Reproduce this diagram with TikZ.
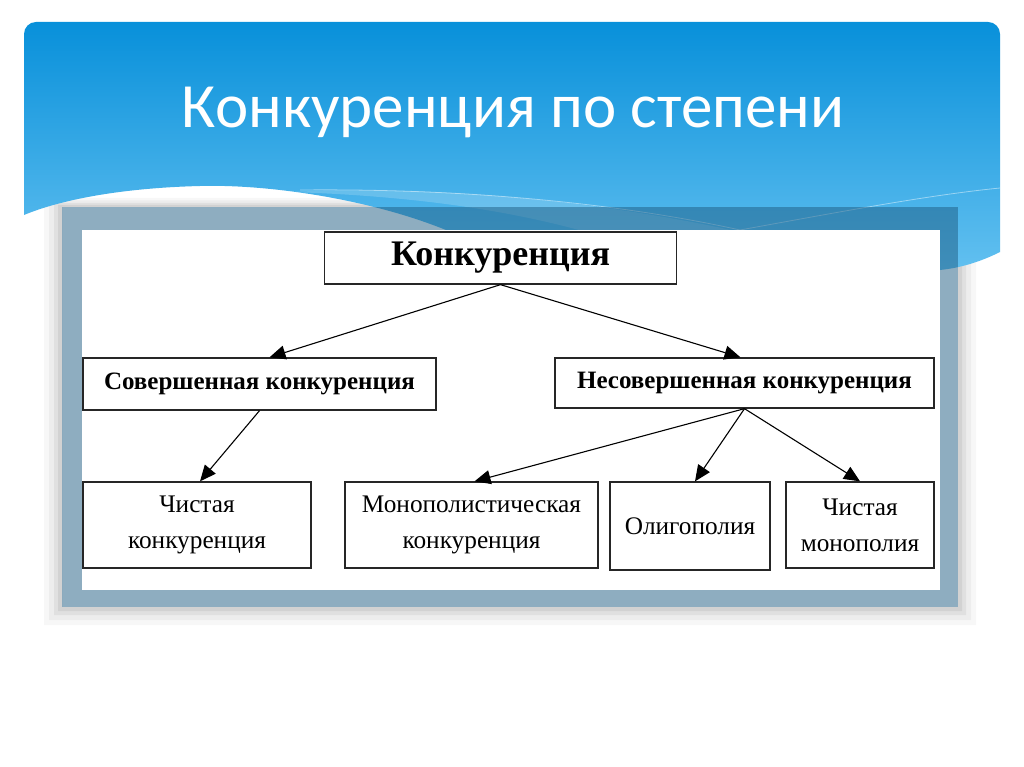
\documentclass[tikz,border=0pt]{standalone}
\usepackage{fontspec}
\setmainfont{Liberation Serif}
\newfontfamily\titlefont{Carlito}
\usetikzlibrary{arrows.meta}

\definecolor{hdtop}{RGB}{8,144,218}
\definecolor{hdbot}{RGB}{98,192,240}
\definecolor{framec}{RGB}{30,92,130}

\tikzset{
  box/.style={draw=black!85, line width=1.3pt, fill=white, inner sep=0pt, align=center},
  boldbox/.style={box, font=\bfseries\fontsize{25}{30}\selectfont},
  leafbox/.style={box, font=\fontsize{25.3}{36}\selectfont},
  link/.style={line width=1.1pt, -{Triangle[length=16pt,width=14pt]}}
}

\begin{document}
\begin{tikzpicture}[x=1pt,y=-1pt]
\useasboundingbox (0,0) rectangle (1024,767);
\fill[white] (0,0) rectangle (1024,767);
% shadow round the frame
\foreach \d/\o in {18/0.03, 13/0.04, 8/0.05, 4/0.06}
  \fill[black, opacity=\o, even odd rule] (62-\d,207-\d/2) rectangle (958+\d,607+\d)
    (62,207) rectangle (958,607);
% header
\shade[top color=hdtop, bottom color=hdbot]
  (24,215) -- (24,34) arc[start angle=180, end angle=270, radius=12]
  -- (988,22) arc[start angle=270, end angle=360, radius=12]
  -- (1000,252) .. controls (980,262) and (960,268) .. (940,270) -- (940,236) -- (460,236)
  .. controls (380,200) and (270,184) .. (200,186)
  .. controls (120,188) and (60,200) .. (24,215) -- cycle;
\fill[white, opacity=0.18] (290,192) .. controls (450,184) and (620,205) .. (740,232)
  -- (600,236) .. controls (520,212) and (420,196) .. (290,192);
\draw[white, opacity=0.45, line width=0.8pt] (300,190) .. controls (500,188) and (650,210) .. (740,230)
  .. controls (850,210) and (930,195) .. (1000,188);
\node[white, font=\titlefont\fontsize{63}{63}\selectfont, anchor=base] (title) at (513,128) {Конкуренция по степени};
% frame
\fill[framec, opacity=0.5] (62,207) rectangle (958,607);
\fill[white] (82,230) rectangle (940,590);
% boxes
\node[boldbox, font=\bfseries\fontsize{36}{40}\selectfont, minimum width=352pt, minimum height=52pt] (conc) at (500.5,258) {Конкуренция};
\node[boldbox, minimum width=353pt, minimum height=52pt] (perf) at (259.5,384) {Совершенная конкуренция};
\node[boldbox, minimum width=379pt, minimum height=50pt] (imperf) at (744.5,383) {Несовершенная конкуренция};
\node[leafbox, minimum width=228pt, minimum height=86pt] (pure) at (197,525) {Чистая\\конкуренция};
\node[leafbox, minimum width=253pt, minimum height=86pt] (monop) at (471.5,525) {Монополистическая\\конкуренция};
\node[leafbox, minimum width=160pt, minimum height=88pt] (olig) at (690,526) {Олигополия};
\node[leafbox, minimum width=148pt, minimum height=86pt] (puremono) at (860,525) {Чистая\\монополия};
% arrows
\draw[link] (conc.south) -- ([xshift=10pt]perf.north);
\draw[link] (conc.south) -- ([xshift=-4pt]imperf.north);
\draw[link] (perf.south) -- ([xshift=3pt]pure.north);
\draw[link] (imperf.south) -- ([xshift=3pt]monop.north);
\draw[link] (imperf.south) -- ([xshift=5pt]olig.north);
\draw[link] (imperf.south) -- (puremono.north);
\end{tikzpicture}
\end{document}
